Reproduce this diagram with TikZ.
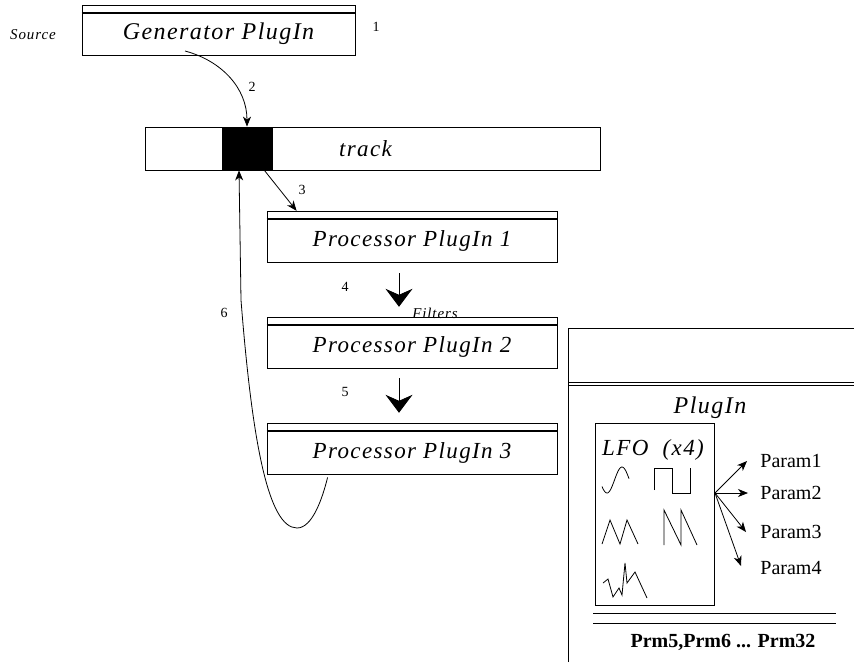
\documentclass[tikz,border=0pt]{standalone}
\usepackage{fontspec}
\setmainfont{Liberation Serif}
\newfontfamily\spacedit[LetterSpace=6]{Liberation Serif}
\usetikzlibrary{arrows.meta,calc}

\begin{document}
\begin{tikzpicture}[x=1pt, y=1pt, line width=0.8pt,
  plug/.style={draw, minimum width=290pt, minimum height=43pt, inner sep=0pt, font=\spacedit\itshape\fontsize{23}{26}\selectfont},
  strip/.style={draw, minimum width=290pt, minimum height=7pt, inner sep=0pt},
  num/.style={font=\fontsize{14}{16}\selectfont},
  smallit/.style={font=\spacedit\itshape\fontsize{15}{17}\selectfont},
  param/.style={anchor=west, inner sep=0pt, font=\fontsize{20}{22}\selectfont},
  linkarrow/.style={-{Stealth[length=10pt,width=8pt,inset=3pt]}},
  bigarrow/.style={-{Stealth[length=18pt,width=27pt,inset=6pt]}},
]
  \useasboundingbox (0,0) rectangle (854,-662);

  % source and track
  \node[plug, minimum width=273pt, minimum height=42pt, font=\spacedit\itshape\fontsize{24}{28}\selectfont] (gen) at (218.5,-34) {Generator PlugIn};
  \node[strip, minimum width=273pt, anchor=south] (gens) at (gen.north) {};
  \draw[line width=2pt] (gen.north west) -- (gen.north east);
  \node[smallit] (src) at (33,-35) {Source};
  \node[num] (n1) at (376,-27) {1};

  \node[plug, minimum width=455pt] (track) at (372.5,-148.5) {\hspace*{-14pt}track};
  \node[draw, fill=black, minimum width=50pt, minimum height=43pt, inner sep=0pt] (blk) at (247,-148.5) {};

  % processors
  \node[plug] (p1) at (412,-240.5) {Processor PlugIn 1};
  \node[plug] (p2) at (412,-346.5) {Processor PlugIn 2};
  \node[plug] (p3) at (412,-452.5) {Processor PlugIn 3};
  \foreach \p in {p1,p2,p3} {
    \node[strip, anchor=south] (\p s) at (\p.north) {};
    \draw[line width=2pt] (\p.north west) -- (\p.north east);
  }

  % connectors
  \coordinate (g2) at (185,-51);
  \draw[linkarrow] (g2) to[out=-15, in=90] (blk.north);
  \node[num] (n2) at (252,-87) {2};

  \draw[linkarrow] ($(blk.south east)+(-8,0)$) -- ($(p1s.north west)+(30,0)$);
  \node[num] (n3) at (302,-190) {3};

  \draw[bigarrow] ($(p1.south)+(-13,-11)$) -- ($(p2s.north)+(-13,10)$);
  \node[num] (n4) at (345,-287) {4};
  \node[smallit] (flt) at (435,-313) {Filters};
  \draw[bigarrow] ($(p2.south)+(-13,-10)$) -- ($(p3s.north)+(-13,10)$);
  \node[num] (n5) at (345,-392) {5};

  \coordinate (c6) at (297,-528);
  \draw[linkarrow] ($(p3.south west)+(61,-3)$) .. controls (322,-500) and (312,-528) .. (c6)
    .. controls (268,-528) and (252,-440) .. (241,-300) -- ($(blk.south)+(-8,0)$);
  \node[num] (n6) at (224,-313) {6};

  % plugin panel
  \draw (568,-662) |- (854,-328);
  \draw (568,-382) -- (854,-382);
  \draw (568,-385) -- (854,-385);
  \node[font=\spacedit\itshape\fontsize{24}{26}\selectfont] (plg) at (710,-408) {PlugIn};
  \node[draw, minimum width=119pt, minimum height=182pt, inner sep=0pt] (lfo) at (654.5,-514) {};
  \node[font=\spacedit\itshape\fontsize{23}{26}\selectfont] (lfot) at (653,-450) {LFO\ \ (x4)};

  % waveforms
  \draw plot[domain=602:629, samples=40] (\x,{-480-13*cos(12*(\x-607))});
  \draw (654,-490) -- (654,-468) -- (672,-468) -- (672,-493) -- (690,-493) -- (690,-468);
  \draw (602,-544) -- (610,-520) -- (620,-544) -- (627,-520) -- (638,-544);
  \draw (664,-545) -- (664,-510) -- (681,-545) -- (681,-510) -- (697,-545);
  \draw (603,-583) -- (608,-579) -- (613,-597) -- (619,-588) -- (622,-595) -- (625,-563) -- (627,-583) -- (635,-572) -- (647,-598);

  % parameters
  \coordinate (fan) at (715,-493);
  \node[param] (pr1) at (760,-461) {Param1};
  \node[param] (pr2) at (760,-493) {Param2};
  \node[param] (pr3) at (760,-532) {Param3};
  \node[param] (pr4) at (760,-568) {Param4};
  \draw[linkarrow] (fan) -- ($(pr1.west)+(-13,0)$);
  \draw[linkarrow] (fan) -- ($(pr2.west)+(-12,0)$);
  \draw[linkarrow] (fan) -- ($(pr3.west)+(-14,0)$);
  \draw[linkarrow] (fan) -- ($(pr4.west)+(-19,2)$);

  \draw (593,-613) -- (836,-613);
  \draw (593,-623) -- (836,-623);
  \node[font=\bfseries\fontsize{20}{22}\selectfont] (prm) at (723,-642) {Prm5,Prm6 ... Prm32};
\end{tikzpicture}
\end{document}
